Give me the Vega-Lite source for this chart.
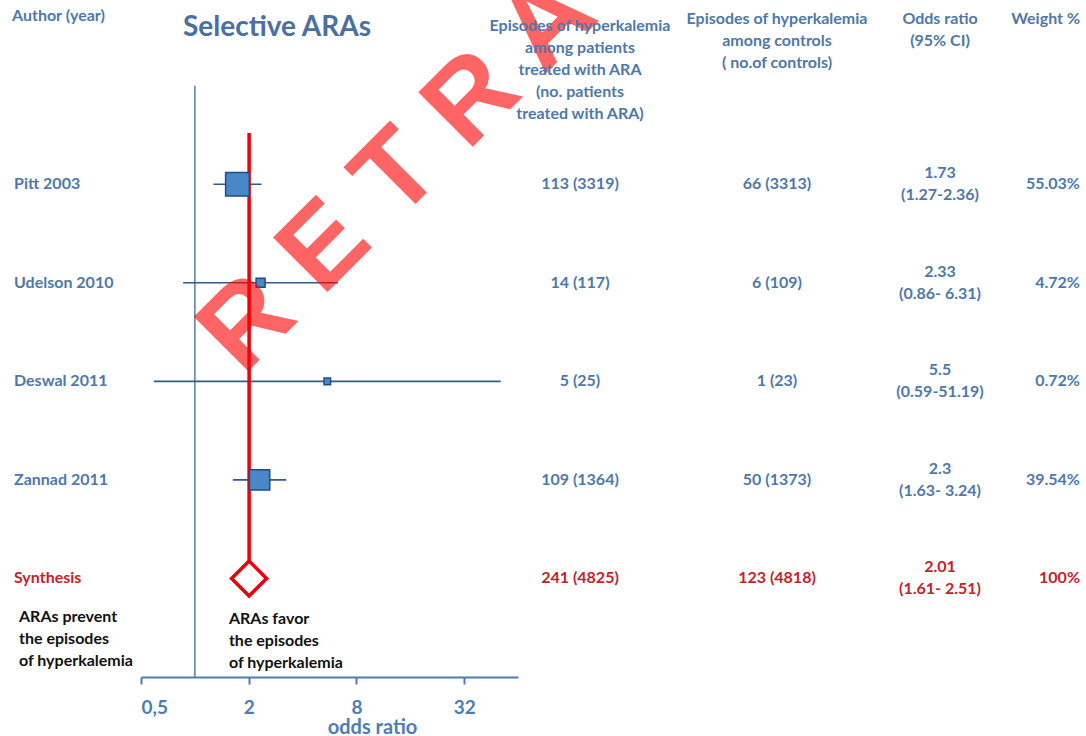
{
  "$schema": "https://vega.github.io/schema/vega-lite/v6.json",
  "autosize": {"type": "none"},
  "padding": {"left": 0, "top": 0, "right": 1086, "bottom": 736},
  "background": "white",
  "spacing": 0,
  "bounds": "flush",
  "config": {
    "view": {"stroke": null},
    "font": "Lato",
    "text": {"font": "Lato", "fontWeight": "bold", "fontSize": 16, "lineHeight": 22, "lineBreak": "\n"}
  },
  "datasets": {
    "rows": [
      {"row": 1, "study": "Pitt 2003", "type": "study", "ara": "113 (3319)", "ctrl": "66 (3313)", "or": 1.73, "lo": 1.27, "hi": 2.36, "orci": "1.73\n(1.27-2.36)", "wlabel": "55.03%", "w": 55.03},
      {"row": 2, "study": "Udelson 2010", "type": "study", "ara": "14 (117)", "ctrl": "6 (109)", "or": 2.33, "lo": 0.86, "hi": 6.31, "orci": "2.33\n(0.86- 6.31)", "wlabel": "4.72%", "w": 4.72},
      {"row": 3, "study": "Deswal 2011", "type": "study", "ara": "5 (25)", "ctrl": "1 (23)", "or": 5.5, "lo": 0.59, "hi": 51.19, "orci": "5.5\n(0.59-51.19)", "wlabel": "0.72%", "w": 0.72},
      {"row": 4, "study": "Zannad 2011", "type": "study", "ara": "109 (1364)", "ctrl": "50 (1373)", "or": 2.3, "lo": 1.63, "hi": 3.24, "orci": "2.3\n(1.63- 3.24)", "wlabel": "39.54%", "w": 39.54},
      {"row": 5, "study": "Synthesis", "type": "synthesis", "ara": "241 (4825)", "ctrl": "123 (4818)", "or": 2.01, "lo": 1.61, "hi": 2.51, "orci": "2.01\n(1.61- 2.51)", "wlabel": "100%", "w": 100}
    ]
  },
  "hconcat": [
    {
      "width": 141,
      "height": 677,
      "layer": [
        {
          "data": {"name": "rows"},
          "mark": {"type": "text", "align": "left", "baseline": "middle", "dx": 14},
          "encoding": {
            "x": {"value": 0},
            "y": {"field": "row", "type": "quantitative", "scale": {"domain": [-0.87, 6], "reverse": true, "nice": false, "zero": false}, "axis": null},
            "text": {"field": "study"},
            "color": {"field": "type", "type": "nominal", "scale": {"domain": ["study", "synthesis"], "range": ["#4f78a8", "#c8202c"]}, "legend": null}
          }
        },
        {
          "data": {"values": [{}]},
          "mark": {"type": "text", "align": "left", "baseline": "top", "dx": 12, "color": "#4f78a8"},
          "encoding": {
            "x": {"value": 0},
            "y": {"datum": -0.784, "type": "quantitative", "scale": {"domain": [-0.87, 6], "reverse": true, "nice": false, "zero": false}, "axis": null},
            "text": {"value": "Author (year)"}
          }
        },
        {
          "data": {"values": [{}]},
          "mark": {"type": "text", "align": "left", "baseline": "top", "dx": 19, "color": "#111111"},
          "encoding": {
            "x": {"value": 0},
            "y": {"datum": 5.305, "type": "quantitative", "scale": {"domain": [-0.87, 6], "reverse": true, "nice": false, "zero": false}, "axis": null},
            "text": {"value": ["ARAs prevent", "the episodes", "of  hyperkalemia"]}
          }
        }
      ]
    },
    {
      "width": 377,
      "height": 677,
      "layer": [
        {
          "data": {"values": [{}]},
          "mark": {"type": "rule", "color": "#5f86ab", "strokeWidth": 1.6},
          "encoding": {
            "x": {
              "datum": 1, "type": "quantitative",
              "scale": {"type": "log", "base": 2, "domain": [0.5, 64], "nice": false},
              "axis": {
                "values": [0.5, 2, 8, 32],
                "labelExpr": "replace(format(datum.value, '~g'), '.', ',')",
                "grid": false,
                "domainColor": "#4f7db3", "domainWidth": 2,
                "tickColor": "#4f7db3", "tickWidth": 2, "tickSize": 7,
                "labelFont": "Lato", "labelFontWeight": "bold", "labelFontSize": 19, "labelColor": "#4f7db3", "labelPadding": 14,
                "title": "odds ratio", "titleFont": "Lato", "titleFontWeight": "bold", "titleFontSize": 20, "titleColor": "#4f7db3",
                "titleX": 231, "titleY": 56, "titleBaseline": "alphabetic"
              }
            },
            "y": {"datum": 0, "type": "quantitative", "scale": {"domain": [-0.87, 6], "reverse": true, "nice": false, "zero": false}, "axis": null},
            "y2": {"datum": 6}
          }
        },
        {
          "data": {"name": "rows"},
          "transform": [{"filter": "datum.type === 'study'"}],
          "mark": {"type": "rule", "color": "#34598a", "strokeWidth": 1.6},
          "encoding": {
            "x": {"field": "lo", "type": "quantitative"},
            "x2": {"field": "hi"},
            "y": {"field": "row", "type": "quantitative", "axis": null}
          }
        },
        {
          "data": {"name": "rows"},
          "transform": [{"filter": "datum.type === 'synthesis'"}],
          "mark": {"type": "rule", "color": "#e8000b", "strokeWidth": 3.5},
          "encoding": {
            "x": {"field": "or", "type": "quantitative"},
            "y": {"datum": 0.48, "type": "quantitative", "axis": null},
            "y2": {"datum": 5}
          }
        },
        {
          "data": {"name": "rows"},
          "transform": [{"filter": "datum.type === 'study'"}],
          "mark": {"type": "point", "shape": "square", "filled": true, "fill": "#4a87c6", "stroke": "#1f4d8a", "strokeWidth": 1.5, "opacity": 1},
          "encoding": {
            "x": {"field": "or", "type": "quantitative"},
            "y": {"field": "row", "type": "quantitative", "axis": null},
            "size": {"field": "w", "type": "quantitative", "scale": {"domain": [0, 55.03], "range": [36, 560]}, "legend": null}
          }
        },
        {
          "data": {"name": "rows"},
          "transform": [{"filter": "datum.type === 'synthesis'"}],
          "mark": {"type": "point", "shape": "diamond", "filled": true, "fill": "white", "stroke": "#e8000b", "strokeWidth": 3.5, "size": 1225, "opacity": 1},
          "encoding": {
            "x": {"field": "or", "type": "quantitative"},
            "y": {"field": "row", "type": "quantitative", "axis": null}
          }
        },
        {
          "data": {"values": [{}]},
          "mark": {"type": "text", "align": "left", "baseline": "top", "color": "#111111"},
          "encoding": {
            "x": {"datum": 1.55, "type": "quantitative"},
            "y": {"datum": 5.335, "type": "quantitative", "axis": null},
            "text": {"value": ["ARAs favor", "the episodes", "of hyperkalemia"]}
          }
        },
        {
          "data": {"values": [{}]},
          "mark": {"type": "text", "align": "center", "baseline": "middle", "fontSize": 28, "color": "#4b70a0"},
          "encoding": {
            "x": {"datum": 2.88, "type": "quantitative"},
            "y": {"datum": -0.586, "type": "quantitative", "axis": null},
            "text": {"value": "Selective ARAs"}
          }
        },
        {
          "data": {"values": [{}]},
          "mark": {"type": "text", "align": "left", "baseline": "alphabetic", "angle": -45, "font": "Liberation Sans", "fontWeight": "bold", "fontSize": 112, "color": "#ff0000", "opacity": 0.6},
          "encoding": {
            "x": {"datum": 1.86, "type": "quantitative"},
            "y": {"datum": 2.95, "type": "quantitative", "axis": null},
            "text": {"value": "R E T R A C T E D"}
          }
        }
      ]
    },
    {
      "width": 124,
      "height": 677,
      "layer": [
        {
          "data": {"name": "rows"},
          "mark": {"type": "text", "align": "center", "baseline": "middle"},
          "encoding": {
            "y": {"field": "row", "type": "quantitative", "scale": {"domain": [-0.87, 6], "reverse": true, "nice": false, "zero": false}, "axis": null},
            "text": {"field": "ara"},
            "color": {"field": "type", "type": "nominal", "scale": {"domain": ["study", "synthesis"], "range": ["#4f78a8", "#c8202c"]}, "legend": null}
          }
        },
        {
          "data": {"values": [{}]},
          "mark": {"type": "text", "align": "center", "baseline": "top", "color": "#4f78a8"},
          "encoding": {
            "y": {"datum": -0.69, "type": "quantitative", "axis": null},
            "text": {"value": ["Episodes of hyperkalemia", "among  patients", "treated with ARA", "(no. patients", "treated with ARA)"]}
          }
        }
      ]
    },
    {
      "width": 270,
      "height": 677,
      "layer": [
        {
          "data": {"name": "rows"},
          "mark": {"type": "text", "align": "center", "baseline": "middle"},
          "encoding": {
            "y": {"field": "row", "type": "quantitative", "scale": {"domain": [-0.87, 6], "reverse": true, "nice": false, "zero": false}, "axis": null},
            "text": {"field": "ctrl"},
            "color": {"field": "type", "type": "nominal", "scale": {"domain": ["study", "synthesis"], "range": ["#4f78a8", "#c8202c"]}, "legend": null}
          }
        },
        {
          "data": {"values": [{}]},
          "mark": {"type": "text", "align": "center", "baseline": "top", "color": "#4f78a8"},
          "encoding": {
            "y": {"datum": -0.763, "type": "quantitative", "axis": null},
            "text": {"value": ["Episodes of hyperkalemia", "among  controls", "( no.of controls)"]}
          }
        }
      ]
    },
    {
      "width": 56,
      "height": 677,
      "layer": [
        {
          "data": {"name": "rows"},
          "mark": {"type": "text", "align": "center", "baseline": "middle", "dy": -11},
          "encoding": {
            "y": {"field": "row", "type": "quantitative", "scale": {"domain": [-0.87, 6], "reverse": true, "nice": false, "zero": false}, "axis": null},
            "text": {"field": "orci"},
            "color": {"field": "type", "type": "nominal", "scale": {"domain": ["study", "synthesis"], "range": ["#4f78a8", "#c8202c"]}, "legend": null}
          }
        },
        {
          "data": {"values": [{}]},
          "mark": {"type": "text", "align": "center", "baseline": "top", "color": "#4f78a8"},
          "encoding": {
            "y": {"datum": -0.763, "type": "quantitative", "axis": null},
            "text": {"value": ["Odds ratio", "(95% CI)"]}
          }
        }
      ]
    },
    {
      "width": 112,
      "height": 677,
      "layer": [
        {
          "data": {"name": "rows"},
          "mark": {"type": "text", "align": "right", "baseline": "middle"},
          "encoding": {
            "x": {"value": "width"},
            "y": {"field": "row", "type": "quantitative", "scale": {"domain": [-0.87, 6], "reverse": true, "nice": false, "zero": false}, "axis": null},
            "text": {"field": "wlabel"},
            "color": {"field": "type", "type": "nominal", "scale": {"domain": ["study", "synthesis"], "range": ["#4f78a8", "#c8202c"]}, "legend": null}
          }
        },
        {
          "data": {"values": [{}]},
          "mark": {"type": "text", "align": "right", "baseline": "top", "color": "#4f78a8"},
          "encoding": {
            "x": {"value": "width"},
            "y": {"datum": -0.763, "type": "quantitative", "axis": null},
            "text": {"value": "Weight %"}
          }
        }
      ]
    }
  ]
}
